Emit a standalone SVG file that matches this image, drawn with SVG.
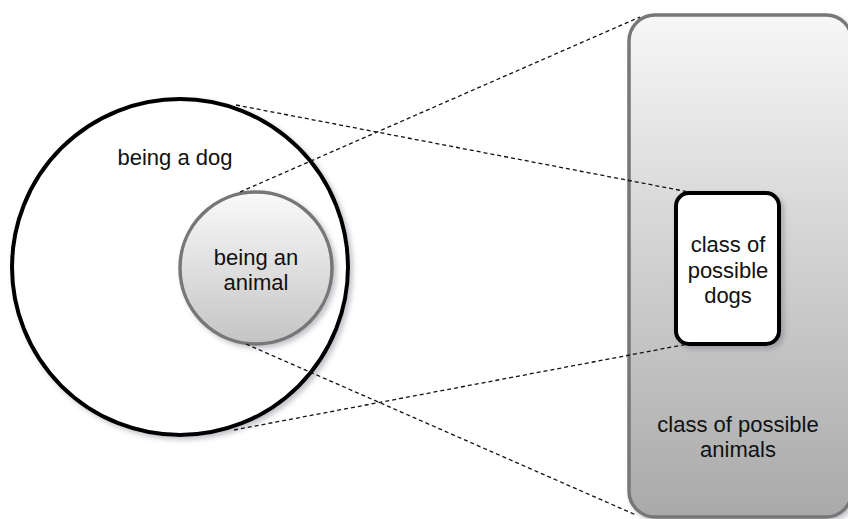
<svg xmlns="http://www.w3.org/2000/svg" width="848" height="519" viewBox="0 0 848 519">
  <defs>
    <linearGradient id="gSmall" x1="0" y1="0" x2="0" y2="1">
      <stop offset="0" stop-color="#fafafa"/>
      <stop offset="1" stop-color="#c4c4c4"/>
    </linearGradient>
    <linearGradient id="gBig" x1="0" y1="0" x2="0" y2="1">
      <stop offset="0" stop-color="#f7f7f7"/>
      <stop offset="1" stop-color="#a9a9a9"/>
    </linearGradient>
    <filter id="sh" x="-10%" y="-10%" width="125%" height="125%">
      <feDropShadow dx="3" dy="3" stdDeviation="2.5" flood-color="#556" flood-opacity="0.35"/>
    </filter>
  </defs>
  <style>
    text { font-family: "Liberation Sans", Arial, sans-serif; font-size: 22px; fill: #111; text-anchor: middle; }
    .dash { fill: none; stroke: #111; stroke-width: 1.3; stroke-dasharray: 4 3; }
  </style>
  <rect width="848" height="519" fill="#ffffff"/>
  <g id="class-of-possible-animals">
    <rect x="629" y="15" width="223" height="502" rx="26" ry="26" fill="url(#gBig)" stroke="#777" stroke-width="3.5" filter="url(#sh)"/>
    <text x="738" y="432">class of possible</text>
    <text x="738" y="457">animals</text>
  </g>
  <g id="being-a-dog">
    <circle cx="180" cy="267" r="168" fill="#ffffff" stroke="#000" stroke-width="4" filter="url(#sh)"/>
    <text x="175" y="165">being a dog</text>
  </g>
  <g id="being-an-animal">
    <circle cx="256" cy="268" r="76" fill="url(#gSmall)" stroke="#777" stroke-width="3.5" filter="url(#sh)"/>
    <text x="256" y="265">being an</text>
    <text x="256" y="290">animal</text>
  </g>
  <g id="class-of-possible-dogs">
    <rect x="676" y="193" width="103" height="151" rx="13" ry="13" fill="#ffffff" stroke="#000" stroke-width="4" filter="url(#sh)"/>
    <text x="728" y="252">class of</text>
    <text x="728" y="278">possible</text>
    <text x="728" y="303">dogs</text>
  </g>
  <g id="connectors">
    <line class="dash" x1="236" y1="105" x2="689" y2="192"/>
    <line class="dash" x1="240" y1="192" x2="640" y2="17"/>
    <line class="dash" x1="246" y1="344" x2="636" y2="515"/>
    <line class="dash" x1="234" y1="430" x2="688" y2="344"/>
  </g>
</svg>
